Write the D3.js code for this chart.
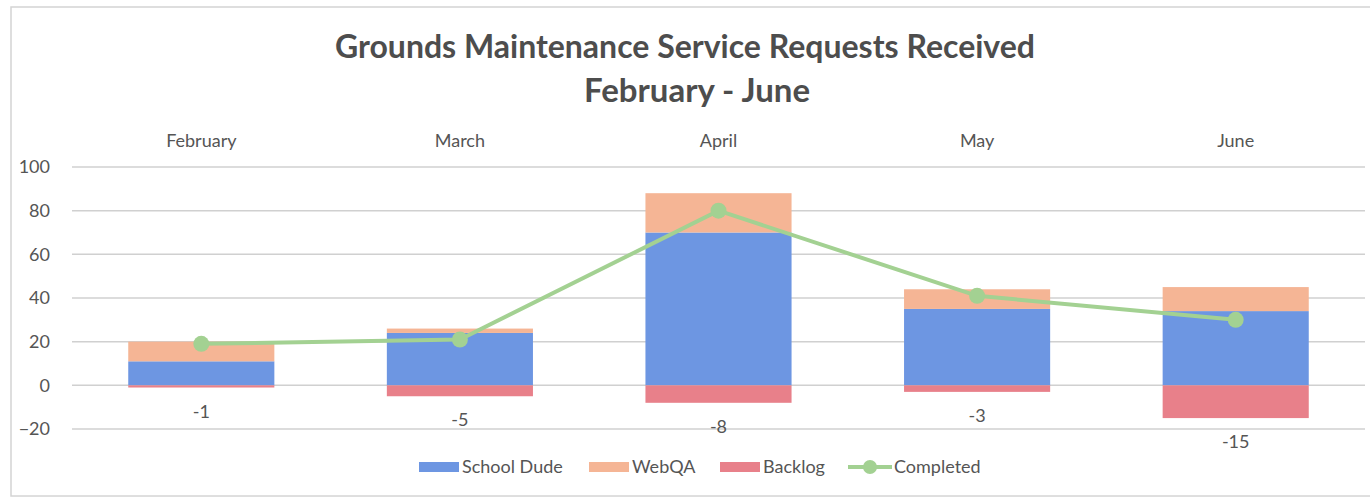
<!DOCTYPE html>
<html>
<head>
<meta charset="utf-8">
<script src="https://cdn.jsdelivr.net/npm/d3@7"></script>
<style>
  body { margin: 0; background: #fff; }
  svg { display: block; font-family: "Lato", "Open Sans", sans-serif; }
</style>
</head>
<body>
<svg id="chart" width="1370" height="497"></svg>
<script>
const months     = ["February", "March", "April", "May", "June"];
const schoolDude = [11, 24, 70, 35, 34];
const webQA      = [9, 2, 18, 9, 11];
const backlog    = [-1, -5, -8, -3, -15];
const completed  = [19, 21, 80, 41, 30];
const yTicks     = [-20, 0, 20, 40, 60, 80, 100];

const colors = {school: "#6d96e2", web: "#f5b595", backlog: "#e8808a", done: "#a3d192"};
const textColor = "#555";

const svg = d3.select("#chart");
const width = 1370, height = 497;
const margin = {top: 167, bottom: 68, left: 72, right: 5};

// frame
svg.append("rect")
    .attr("x", 11).attr("y", 7)
    .attr("width", width).attr("height", height - 8)
    .attr("fill", "none")
    .attr("stroke", "#d4d4d4")
    .attr("stroke-width", 1.5);

const x = d3.scaleBand()
    .domain(months)
    .range([margin.left, width - margin.right])
    .paddingInner(0.435)
    .paddingOuter(0.2175);

const y = d3.scaleLinear()
    .domain([-20, 100])
    .range([height - margin.bottom, margin.top]);

// gridlines
svg.append("g").selectAll("line")
    .data(yTicks)
    .join("line")
    .attr("x1", margin.left).attr("x2", width - margin.right)
    .attr("y1", d => y(d)).attr("y2", d => y(d))
    .attr("stroke", "#d0d0d0")
    .attr("stroke-width", 1.5);

// y axis
const yAxis = svg.append("g")
    .attr("transform", `translate(${margin.left},0)`)
    .call(d3.axisLeft(y).tickValues(yTicks).tickSize(0).tickPadding(22));
yAxis.select(".domain").remove();
yAxis.selectAll("text")
    .attr("font-size", 18)
    .attr("font-family", "Lato")
    .attr("fill", textColor);

// categories on top
const xAxis = svg.append("g")
    .attr("transform", `translate(0,${margin.top - 20})`)
    .call(d3.axisTop(x).tickSize(0).tickPadding(0));
xAxis.select(".domain").remove();
xAxis.selectAll("text")
    .attr("font-size", 18)
    .attr("font-family", "Lato")
    .attr("fill", textColor);

const rows = months.map((m, i) => ({
    month: m, school: schoolDude[i], web: webQA[i], backlog: backlog[i], done: completed[i]
}));

const bars = svg.append("g");
// School Dude
bars.selectAll(".school")
    .data(rows).join("rect")
    .attr("class", "school")
    .attr("x", d => x(d.month)).attr("width", x.bandwidth())
    .attr("y", d => y(d.school)).attr("height", d => y(0) - y(d.school))
    .attr("fill", colors.school);
// WebQA stacked on top
bars.selectAll(".web")
    .data(rows).join("rect")
    .attr("class", "web")
    .attr("x", d => x(d.month)).attr("width", x.bandwidth())
    .attr("y", d => y(d.school + d.web)).attr("height", d => y(d.school) - y(d.school + d.web))
    .attr("fill", colors.web);
// Backlog below zero
bars.selectAll(".backlog")
    .data(rows).join("rect")
    .attr("class", "backlog")
    .attr("x", d => x(d.month)).attr("width", x.bandwidth())
    .attr("y", y(0)).attr("height", d => y(d.backlog) - y(0))
    .attr("fill", colors.backlog);

// backlog labels
svg.append("g").selectAll("text")
    .data(rows).join("text")
    .attr("x", d => x(d.month) + x.bandwidth() / 2)
    .attr("y", d => y(d.backlog) + 30)
    .attr("text-anchor", "middle")
    .attr("font-size", 18)
    .attr("fill", textColor)
    .text(d => d.backlog);

// Completed line
const cx = d => x(d.month) + x.bandwidth() / 2;
svg.append("path")
    .datum(rows)
    .attr("fill", "none")
    .attr("stroke", colors.done)
    .attr("stroke-width", 4)
    .attr("d", d3.line().x(cx).y(d => y(d.done)));
svg.append("g").selectAll("circle")
    .data(rows).join("circle")
    .attr("cx", cx).attr("cy", d => y(d.done))
    .attr("r", 8)
    .attr("fill", colors.done);

// title
const title = svg.append("g").attr("fill", "#4d4d4d").attr("font-weight", "bold")
    .attr("text-anchor", "middle");
title.append("text").attr("x", 685).attr("y", 58).attr("font-size", 32)
    .text("Grounds Maintenance Service Requests Received");
title.append("text").attr("x", 697).attr("y", 102).attr("font-size", 33)
    .text("February - June");

// legend
const legend = svg.append("g").attr("font-size", 18).attr("fill", textColor);
const items = [
    {name: "School Dude", color: colors.school, x: 419, type: "rect"},
    {name: "WebQA", color: colors.web, x: 589, type: "rect"},
    {name: "Backlog", color: colors.backlog, x: 720, type: "rect"},
    {name: "Completed", color: colors.done, x: 848, type: "line"}
];
items.forEach(it => {
    const g = legend.append("g").attr("transform", `translate(${it.x},467)`);
    if (it.type === "rect") {
        g.append("rect").attr("x", 0).attr("y", -5).attr("width", 40).attr("height", 10).attr("fill", it.color);
    } else {
        g.append("line").attr("x1", 0).attr("x2", 44).attr("stroke", it.color).attr("stroke-width", 4);
        g.append("circle").attr("cx", 22).attr("r", 7).attr("fill", it.color);
    }
    g.append("text").attr("x", it.type === "rect" ? 43 : 46).attr("y", 6).text(it.name);
});
</script>
</body>
</html>
